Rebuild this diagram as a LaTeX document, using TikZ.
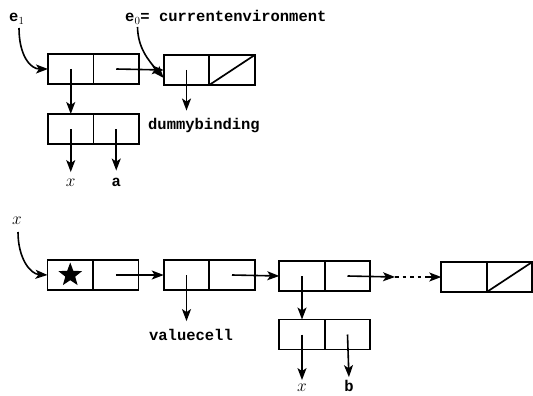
\documentclass[tikz,border=0pt]{standalone}
\usepackage{fontspec}
\setmonofont{Liberation Mono}
\usetikzlibrary{arrows.meta,shapes.geometric}
\tikzset{
  half/.style={draw, line width=1.7pt, minimum width=45.5pt, minimum height=30pt,
    inner sep=0pt, outer sep=0pt},
  arr/.style={line width=1.6pt, -{Stealth[length=12pt,width=9pt,inset=3pt]}},
  tt/.style={font=\fontsize{15.5}{18}\selectfont\ttfamily\bfseries, inner sep=1pt},
  mathlbl/.style={font=\fontsize{16}{18}\selectfont, inner sep=1pt},
  dotline/.style={line width=1.7pt, dash pattern=on 3.5pt off 4pt},
}
\begin{document}
\begin{tikzpicture}[x=1pt, y=-1pt]
\clip (0,0) rectangle (533,396);
\fill[white] (0,0) rectangle (533,396);

% ---- environment list ----
\node[half] (a1) at (70.75,69) {};
\node[half, anchor=west] (a2) at (a1.east) {};
\node[half] (b1) at (186.5,70) {};
\node[half, anchor=west] (b2) at (b1.east) {};
\draw[line width=1.7pt] (b2.south west) -- (b2.north east);
\node[half] (c1) at (70.75,129) {};
\node[half, anchor=west] (c2) at (c1.east) {};

\node[tt, anchor=base west] (e1) at (8,22) {e\textsubscript{\normalfont\mdseries 1}};
\node[tt, anchor=base west] (e0) at (124,22) {e\textsubscript{\normalfont\mdseries 0}= currentenvironment};
\node[tt] (dummy) at (204,126) {dummybinding};
\node[mathlbl] (cx) at (70.75,183) {$x$};
\node[tt] (ca) at (116.25,182) {a};

\coordinate (e1s) at (19,28);
\coordinate (e0s) at (137.5,27);
\draw[arr] (e1s) .. controls (19,55) and (30,69) .. (a1.west);
\draw[arr] (e0s) .. controls (138,48) and (148,60) .. ([yshift=-8pt]b1.west);
\draw[arr] (a2.center) -- (b1.west);
\draw[arr] (a1.center) -- (c1.north);
\draw[arr, shorten >=7pt] (b1.center) -- (b1.center |- dummy.north);
\draw[arr, shorten >=6pt] (c1.center) -- (cx.north);
\draw[arr, shorten >=6pt] (c2.center) -- (ca.north);

% ---- property list of x ----
\node[half] (d1) at (70.25,275) {};
\node[half, anchor=west] (d2) at (d1.east) {};
\node[star, star points=5, star point ratio=2.4, fill=black, minimum size=25pt,
  inner sep=0pt] (st) at (d1.center) {};
\node[half] (f1) at (186.5,275) {};
\node[half, anchor=west] (f2) at (f1.east) {};
\node[half] (g1) at (302,276) {};
\node[half, anchor=west] (g2) at (g1.east) {};
\node[half] (h1) at (302,334.5) {};
\node[half, anchor=west] (h2) at (h1.east) {};
\node[half] (k1) at (464,277) {};
\node[half, anchor=west] (k2) at (k1.east) {};
\draw[line width=1.7pt] (k2.south west) -- (k2.north east);

\node[mathlbl] (xs) at (17,221) {$x$};
\node[tt] (val) at (191,335) {valuecell};
\node[mathlbl] (hx) at (302,388) {$x$};
\node[tt] (hb) at (349,386) {b};

\coordinate (xst) at (18,232);
\coordinate (gap) at (395,277);
\draw[arr] (xst) .. controls (18,258) and (30,274) .. (d1.west);
\draw[arr] (d2.center) -- (f1.west);
\draw[arr] (f2.center) -- (g1.west);
\draw[arr] (g2.center) -- (gap);
\draw[dotline] (gap) -- ([xshift=-10pt]k1.west);
\draw[arr] ([xshift=-12pt]k1.west) -- (k1.west);
\draw[arr, shorten >=7pt] (f1.center) -- (f1.center |- val.north);
\draw[arr] (g1.center) -- (h1.north);
\draw[arr, shorten >=3pt] (h1.center) -- (hx.north);
\draw[arr, shorten >=2pt] (h2.center) -- (hb.north);
\end{tikzpicture}
\end{document}
